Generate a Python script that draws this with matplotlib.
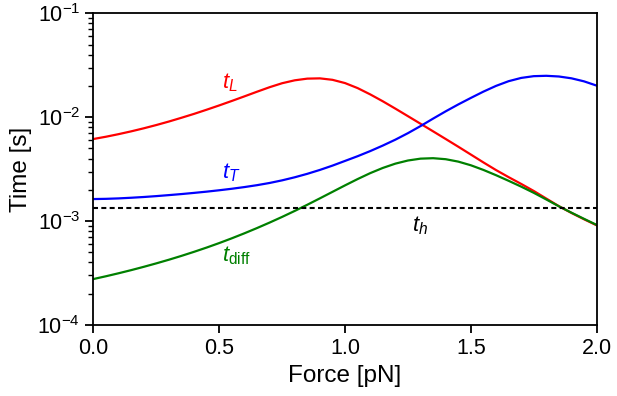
import numpy as np
import matplotlib.pyplot as plt

plt.rcParams['font.family'] = ['Liberation Sans', 'DejaVu Sans']
plt.rcParams['mathtext.fontset'] = 'custom'
plt.rcParams['mathtext.rm'] = 'Liberation Sans'
plt.rcParams['mathtext.it'] = 'Liberation Sans:italic'

force = [0.00, 0.05, 0.10, 0.15, 0.20, 0.25, 0.30, 0.35, 0.40, 0.45,
         0.50, 0.55, 0.60, 0.65, 0.70, 0.75, 0.80, 0.85, 0.90, 0.95,
         1.00, 1.05, 1.10, 1.15, 1.20, 1.25, 1.30, 1.35, 1.40, 1.45,
         1.50, 1.55, 1.60, 1.65, 1.70, 1.75, 1.80, 1.85, 1.90, 1.95, 2.00]

# times in ms (converted to s below)
t_L = [6.17, 6.49, 6.87, 7.31, 7.82, 8.41, 9.09, 9.88, 10.77, 11.81,
       12.99, 14.34, 15.87, 17.59, 19.44, 21.24, 22.65, 23.51, 23.65, 22.9,
       21.3, 19.06, 16.58, 14.23, 12.09, 10.23, 8.65, 7.31, 6.17, 5.20,
       4.37, 3.67, 3.10, 2.65, 2.28, 1.95, 1.647, 1.392, 1.197, 1.041, 0.911]
t_T = [1.63, 1.638, 1.654, 1.678, 1.706, 1.740, 1.779, 1.821, 1.869, 1.921,
       1.981, 2.048, 2.126, 2.217, 2.328, 2.468, 2.641, 2.852, 3.109, 3.42,
       3.796, 4.214, 4.719, 5.333, 6.079, 7.022, 8.215, 9.694, 11.39, 13.27,
       15.33, 17.63, 20.01, 22.21, 23.88, 24.83, 25.03, 24.65, 23.67, 22.13, 20.14]
t_diff = [0.277, 0.2947, 0.3148, 0.3374, 0.3631, 0.3921, 0.425, 0.4629, 0.5064, 0.5565,
          0.6149, 0.6832, 0.7631, 0.857, 0.9675, 1.098, 1.253, 1.437, 1.656, 1.912,
          2.208, 2.539, 2.895, 3.248, 3.573, 3.83, 3.991, 4.031, 3.942, 3.737,
          3.446, 3.108, 2.766, 2.443, 2.147, 1.872, 1.614, 1.388, 1.205, 1.051, 0.919]
t_h = 1.345

fig, ax = plt.subplots(figsize=(6.17, 3.96), dpi=100)
fig.subplots_adjust(left=0.1515, right=0.967, top=0.9664, bottom=0.1793)

ax.plot(force, np.array(t_L) * 1e-3, color='red', lw=1.6)
ax.plot(force, np.array(t_T) * 1e-3, color='blue', lw=1.6)
ax.plot(force, np.array(t_diff) * 1e-3, color='green', lw=1.6)
ax.axhline(t_h * 1e-3, color='black', lw=1.5, ls=(0, (2.4, 1.6)))

ax.text(0.511, 1.91e-2, r'$t_L$', color='red', fontsize=16, ha='left', va='baseline')
ax.text(0.511, 2.57e-3, r'$t_T$', color='blue', fontsize=16, ha='left', va='baseline')
ax.text(0.511, 4.07e-4, r'$t_{\mathrm{diff}}$', color='green', fontsize=16, ha='left', va='baseline')
ax.text(1.265, 7.9e-4, r'$t_h$', color='black', fontsize=16, ha='left', va='baseline')

ax.set_yscale('log')
ax.set_xlim(0, 2)
ax.set_ylim(1e-4, 1e-1)
ax.set_xticks([0.0, 0.5, 1.0, 1.5, 2.0])
ax.set_xlabel('Force [pN]', fontsize=17.5)
ax.set_ylabel('Time [s]', fontsize=17.5)
ax.tick_params(labelsize=15.5, direction='out', length=6, width=1.3)
ax.tick_params(which='minor', length=3.5, width=1)
for s in ax.spines.values():
    s.set_linewidth(1.3)

plt.savefig('out.png', dpi=100)
